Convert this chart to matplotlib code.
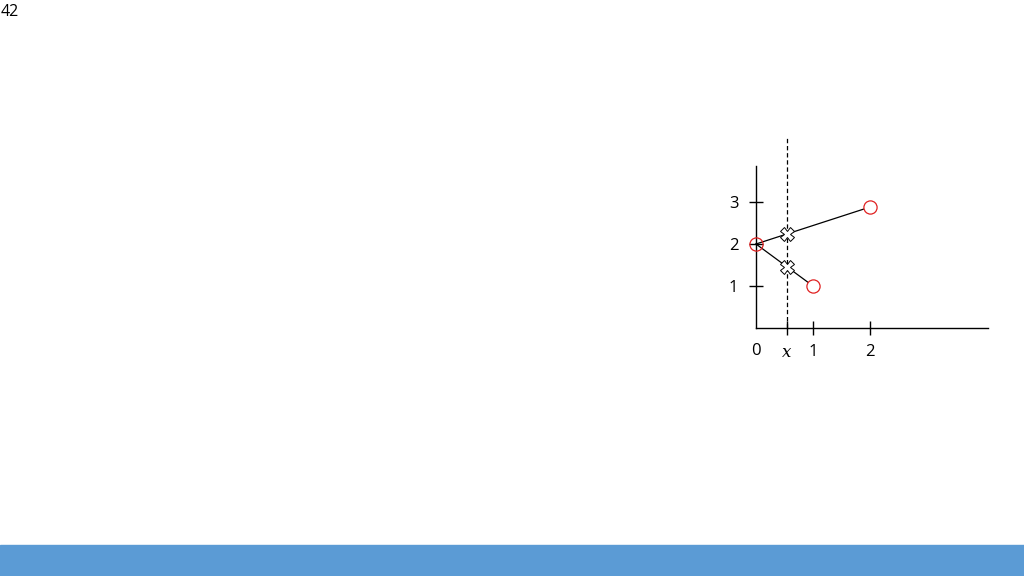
import matplotlib
matplotlib.use("Agg")
import matplotlib.pyplot as plt
from matplotlib.patches import Rectangle

# data
start = (0, 2)
ends_x = [2, 1]
ends_y = [2.88, 1]
x_query = 0.54
cross_y = [2.24, 1.46]
x_ticks = [1, 2]
y_ticks = [1, 2, 3]
page_number = "42"

W, H = 1024, 576
fig = plt.figure(figsize=(W / 100, H / 100), dpi=100)

ox, oy = 756, 328
px_x, px_y = 57, 42
right, top = 988, 166
ax = fig.add_axes([ox / W, (H - oy) / H, (right - ox) / W, (oy - top) / H])
ax.set_xlim(0, (right - ox) / px_x)
ax.set_ylim(0, (oy - top) / px_y)
for s in ["top", "right"]:
    ax.spines[s].set_visible(False)
for s in ["left", "bottom"]:
    ax.spines[s].set_linewidth(1.0)
ax.patch.set_visible(False)

font = "Open Sans"
ax.set_xticks([x_query] + x_ticks)
ax.set_xticklabels(["x"] + [str(v) for v in x_ticks])
ax.set_yticks(y_ticks)
ax.set_yticklabels([str(v) for v in y_ticks])
ax.tick_params(direction="inout", length=9.5, width=1.0, labelsize=12)
ax.tick_params(axis="x", pad=7)
ax.tick_params(axis="y", pad=8)
for lab in ax.get_yticklabels():
    lab.set_fontfamily(font)
xl = ax.get_xticklabels()
xl[0].set_fontfamily("DejaVu Serif")
xl[0].set_fontstyle("italic")
for lab in xl[1:]:
    lab.set_fontfamily(font)
ax.text(0, -23 / px_y, "0", ha="center", va="center", fontsize=12, family=font, clip_on=False)

# dashed vertical line
ax.plot([x_query, x_query], [0, (oy - 137) / px_y], ls=(0, (3.5, 2.2)), color="black",
        lw=0.9, clip_on=False)

# lines from start to ends
for ex, ey in zip(ends_x, ends_y):
    ax.plot([start[0], ex], [start[1], ey], color="black", lw=0.9, clip_on=False, zorder=4)

# end circles (filled white, above lines) and start circle (hollow)
ax.plot(ends_x, ends_y, "o", ms=9.5, mfc="white",
        mec="#e02020", mew=0.9, ls="none", clip_on=False, zorder=5)
ax.plot([start[0]], [start[1]], "o", ms=9.5, mfc="none",
        mec="#e02020", mew=0.9, ls="none", clip_on=False, zorder=5)

# hollow crosses
ax.plot([x_query] * len(cross_y), cross_y, "X", ms=9.5, mfc="white", mec="black",
        mew=0.7, ls="none", clip_on=False, zorder=7)

# page number
fig.text(1 / W, 1 - 12 / H, page_number, fontsize=11.5, family=font, ha="left", va="center")

# bottom blue bar
fig.patches.append(Rectangle((0, 0), 1, 31 / H, transform=fig.transFigure,
                             color="#5B9BD5", zorder=0))

fig.savefig("out.png", dpi=100)
